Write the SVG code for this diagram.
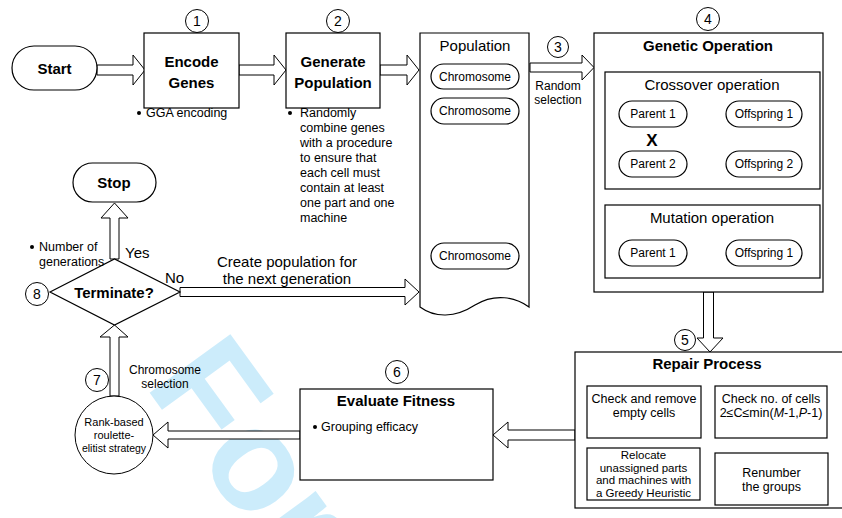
<svg xmlns="http://www.w3.org/2000/svg" width="842" height="518" viewBox="0 0 842 518">
<style>
  text { font-family: "Liberation Sans", Arial, sans-serif; fill: #000; }
  .b { font-weight: bold; font-size: 15px; text-anchor: middle; dominant-baseline: central; }
  .m { font-size: 15px; text-anchor: middle; dominant-baseline: central; }
  .p { font-size: 12px; text-anchor: middle; dominant-baseline: central; }
  .s { font-size: 12.5px; dominant-baseline: central; }
  .sc { font-size: 12.5px; text-anchor: middle; dominant-baseline: central; }
  .sr { font-size: 11.5px; text-anchor: middle; dominant-baseline: central; }
  .n { font-size: 14px; text-anchor: middle; dominant-baseline: central; }
  .box { fill: #fff; stroke: #000; stroke-width: 1.2; }
  .arr { fill: #fff; stroke: #000; stroke-width: 1; stroke-linejoin: miter; }
  .num { fill: #fff; stroke: #000; stroke-width: 1; }
  .thin { fill: none; stroke: #000; stroke-width: 1; }
</style>

<text x="0" y="0" transform="translate(144,385) rotate(54)" style="font-family:'Liberation Sans',Arial,sans-serif;font-weight:bold;font-size:145px;fill:#ccecfb;">For</text>

<g id="connectors">
  <polygon class="arr" points="97,65 133,65 133,55 145,70 133,85 133,75 97,75"/>
  <polygon class="arr" points="239,65 274,65 274,55 286,70 274,85 274,75 239,75"/>
  <polygon class="arr" points="380,65 407,65 407,55 419,70 407,85 407,75 380,75"/>
  <polygon class="arr" points="530,63 582,63 582,55 594,67.5 582,80 582,72 530,72"/>
  <polygon class="arr" points="180,287.5 405,287.5 405,279 419,292 405,305 405,296.5 180,296.5"/>
  <polygon class="arr" points="703.5,292 703.5,338 697,338 710,352 723,338 713.5,338 713.5,292"/>
  <polygon class="arr" points="575,430 508,430 508,422 493,435 508,448 508,440 575,440"/>
  <polygon class="arr" points="300,431 168,431 168,422 153,435 168,448 168,439 300,439"/>
  <polygon class="arr" points="110,396 110,337 100,337 114.5,325 128,337 119,337 119,396"/>
  <polygon class="arr" points="110,259 110,218 101,218 114.5,203 128,218 119,218 119,259"/>
  <path class="thin" d="M695,135.5 H717 M695,140.5 H717 M713,131.5 L722,138 L713,144.5"/>
  <path class="thin" d="M695,249.5 H717 M695,254.5 H717 M713,245.5 L722,252 L713,258.5"/>
  <line x1="474" y1="124" x2="474" y2="140" stroke="#000" stroke-width="1"/>
  <line x1="474" y1="140" x2="474" y2="228" stroke="#888" stroke-width="1" stroke-dasharray="6 2 1 2"/>
  <line x1="474" y1="228" x2="474" y2="243" stroke="#000" stroke-width="1"/>
</g>

<g id="start">
  <rect class="box" x="12" y="46" width="85" height="44" rx="22"/>
  <text class="b" x="54.5" y="68">Start</text>
</g>

<g id="encode">
  <circle class="num" cx="197" cy="21" r="11.5"/>
  <text class="n" x="197" y="21">1</text>
  <rect class="box" x="144" y="33" width="95" height="75"/>
  <text class="b" x="191.5" y="61">Encode</text>
  <text class="b" x="191.5" y="82">Genes</text>
  <circle cx="139" cy="113" r="2"/>
  <text class="s" x="146" y="113">GGA encoding</text>
</g>

<g id="generate">
  <circle class="num" cx="338" cy="21" r="11.5"/>
  <text class="n" x="338" y="21">2</text>
  <rect class="box" x="286" y="33" width="94" height="75"/>
  <text class="b" x="333" y="61">Generate</text>
  <text class="b" x="333" y="82">Population</text>
  <circle cx="290" cy="113" r="2"/>
  <text class="s" x="300" y="113">Randomly</text>
  <text class="s" x="300" y="128">combine genes</text>
  <text class="s" x="300" y="143">with a procedure</text>
  <text class="s" x="300" y="158">to ensure that</text>
  <text class="s" x="300" y="173">each cell must</text>
  <text class="s" x="300" y="188">contain at least</text>
  <text class="s" x="300" y="203">one part and one</text>
  <text class="s" x="300" y="218">machine</text>
</g>

<g id="population">
  <path class="box" d="M420,33 H529 V307 C515,297 495,293 475,305 C455,318 435,318 420,307 Z"/>
  <text class="m" x="475" y="45">Population</text>
  <rect class="box" x="431" y="64" width="88" height="25" rx="12.5"/>
  <text class="p" x="475" y="76.5">Chromosome</text>
  <rect class="box" x="431" y="98" width="88" height="26" rx="13"/>
  <text class="p" x="475" y="111">Chromosome</text>
  <rect class="box" x="431" y="243" width="88" height="26" rx="13"/>
  <text class="p" x="475" y="256">Chromosome</text>
</g>

<g id="selection-label">
  <circle class="num" cx="558" cy="47" r="10.5"/>
  <text class="n" x="558" y="47">3</text>
  <text class="p" x="558" y="86">Random</text>
  <text class="p" x="558" y="100">selection</text>
</g>

<g id="genetic">
  <circle class="num" cx="708" cy="19" r="11.5"/>
  <text class="n" x="708" y="19">4</text>
  <rect class="box" x="594" y="33" width="229" height="259"/>
  <text class="b" x="708" y="45">Genetic Operation</text>
  <rect class="box" x="605" y="72" width="215" height="117"/>
  <text class="m" x="712" y="84">Crossover operation</text>
  <rect class="box" x="619" y="101" width="68" height="26" rx="13"/>
  <text class="p" x="653" y="114">Parent 1</text>
  <rect class="box" x="726" y="101" width="76" height="26" rx="13"/>
  <text class="p" x="764" y="114">Offspring 1</text>
  <rect class="box" x="619" y="151" width="68" height="26" rx="13"/>
  <text class="p" x="653" y="164">Parent 2</text>
  <rect class="box" x="726" y="151" width="76" height="26" rx="13"/>
  <text class="p" x="764" y="164">Offspring 2</text>
  <text x="652" y="140" style="font-weight:bold;font-size:17px;text-anchor:middle;dominant-baseline:central;">X</text>
  <rect class="box" x="605" y="205" width="215" height="73"/>
  <text class="m" x="712" y="217">Mutation operation</text>
  <rect class="box" x="619" y="240" width="68" height="26" rx="13"/>
  <text class="p" x="653" y="253">Parent 1</text>
  <rect class="box" x="726" y="240" width="76" height="26" rx="13"/>
  <text class="p" x="764" y="253">Offspring 1</text>
</g>

<g id="repair">
  <rect class="box" x="575" y="352" width="280" height="156"/>
  <circle class="num" cx="685" cy="340" r="10.5"/>
  <text class="n" x="685" y="340">5</text>
  <text class="b" x="707" y="363">Repair Process</text>
  <rect class="box" x="587" y="386" width="114" height="52"/>
  <text class="sc" x="644" y="399">Check and remove</text>
  <text class="sc" x="644" y="413">empty cells</text>
  <rect class="box" x="715" y="386" width="112" height="52"/>
  <text class="sc" x="771" y="399">Check no. of cells</text>
  <text class="sc" x="771" y="413">2≤C≤min(<tspan font-style="italic">M</tspan>-1,<tspan font-style="italic">P</tspan>-1)</text>
  <rect class="box" x="587" y="448" width="113" height="52"/>
  <text class="sr" x="643.5" y="455">Relocate</text>
  <text class="sr" x="643.5" y="467.5">unassigned parts</text>
  <text class="sr" x="643.5" y="480">and machines with</text>
  <text class="sr" x="643.5" y="492.5">a Greedy Heuristic</text>
  <rect class="box" x="715" y="453" width="113" height="52"/>
  <text class="sc" x="771.5" y="473">Renumber</text>
  <text class="sc" x="771.5" y="487">the groups</text>
</g>

<g id="evaluate">
  <circle class="num" cx="397" cy="372" r="11.5"/>
  <text class="n" x="397" y="372">6</text>
  <rect class="box" x="300" y="389" width="193" height="91"/>
  <text class="b" x="396" y="400">Evaluate Fitness</text>
  <circle cx="315" cy="427" r="2"/>
  <text class="s" x="321" y="427">Grouping efficacy</text>
</g>

<g id="roulette">
  <circle class="num" cx="97" cy="380" r="11.5"/>
  <text class="n" x="97" y="380">7</text>
  <text class="p" x="165" y="370">Chromosome</text>
  <text class="p" x="165" y="384">selection</text>
  <circle cx="114" cy="435" r="39" fill="#fff" stroke="#000" stroke-width="1"/>
  <text x="114" y="422" style="font-size:11px;text-anchor:middle;dominant-baseline:central;">Rank-based</text>
  <text x="114" y="435" style="font-size:11px;text-anchor:middle;dominant-baseline:central;">roulette-</text>
  <text x="114" y="448" style="font-size:10.5px;text-anchor:middle;dominant-baseline:central;">elitist strategy</text>
</g>

<g id="terminate">
  <polygon class="box" points="50,292 114.5,259 180,292 114.5,325"/>
  <text class="b" x="114" y="292">Terminate?</text>
  <circle class="num" cx="37" cy="294" r="11.5"/>
  <text class="n" x="37" y="294">8</text>
  <circle cx="32" cy="247" r="2"/>
  <text class="s" x="39" y="247">Number of</text>
  <text class="s" x="39" y="262">generations</text>
  <text x="125" y="252" style="font-size:15px;dominant-baseline:central;">Yes</text>
  <text x="165" y="277" style="font-size:15px;dominant-baseline:central;">No</text>
  <text class="m" x="287" y="261">Create population for</text>
  <text class="m" x="287" y="278">the next generation</text>
</g>

<g id="stop">
  <rect class="box" x="73" y="163" width="83" height="39" rx="19.5"/>
  <text class="b" x="114" y="182">Stop</text>
</g>
</svg>
